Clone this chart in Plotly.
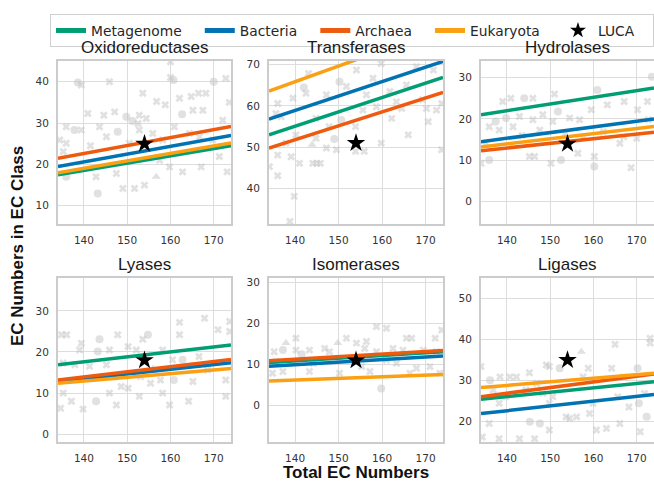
import plotly.graph_objects as go

# ---------------- data ----------------
PANELS = ["Oxidoreductases", "Transferases", "Hydrolases", "Lyases", "Isomerases", "Ligases"]
GROUPS = ["Metagenome", "Bacteria", "Archaea", "Eukaryota"]
FIT_X = [134, 174]

# regression-line values at FIT_X for each panel (Metagenome, Bacteria, Archaea, Eukaryota)
FIT_OXI = [(17.5, 24.5), (19.5, 27.0), (21.5, 29.2), (18.0, 25.2)]
FIT_TRA = [(53.0, 66.9), (56.8, 70.8), (49.8, 63.3), (63.6, 78.8)]
FIT_HYD = [(21.0, 27.5), (14.5, 20.0), (12.3, 16.8), (13.2, 18.2)]
FIT_LYA = [(16.9, 21.7), (12.8, 17.4), (13.2, 18.2), (12.4, 16.0)]
FIT_ISO = [(10.5, 13.1), (9.6, 12.1), (10.9, 13.4), (6.0, 7.6)]
FIT_LIG = [(25.5, 29.7), (22.0, 26.6), (26.1, 31.6), (28.3, 31.8)]

LUCA_X = 154
LUCA_Y = [25, 51, 14, 18, 11, 35]

Y_RANGES = [(5.6, 45), (31.4, 70.9), (-5.4, 34), (-1.9, 38), (-8.8, 31), (15.1, 54.9)]
X_RANGE = (134, 174)

# background genome points: (total EC, EC in class, source kind)
PTS_OXI = [(145.9, 40, "M"), (139.4, 39.2, "M"), (138.6, 39.8, "B"), (153.6, 37.2, "M"), (160, 41, "M"),
           (160, 44.8, "M"), (160.7, 40.4, "B"), (166.5, 37.2, "M"), (168.2, 37.2, "M"), (170, 40, "B"),
           (172.8, 40.8, "M"), (173.6, 35, "M"), (140.9, 32.3, "M"), (144.6, 31.9, "M"), (147.1, 32.7, "M"),
           (149.8, 31.5, "B"), (152.8, 31.9, "M"), (154.4, 31.1, "M"), (156.8, 35.2, "M"), (158.8, 34.4, "M"),
           (162.1, 36, "M"), (164.8, 36.4, "M"), (165.2, 33.1, "M"), (167.5, 33.1, "M"), (135.9, 29.1, "M"),
           (137.8, 28.3, "B"), (139.4, 28.3, "M"), (143.6, 29.1, "M"), (145.2, 26.7, "M"), (147.8, 27.9, "B"),
           (152.5, 29.9, "M"), (152.8, 28.3, "M"), (155.9, 27.5, "M"), (158.2, 25.9, "M"), (160.9, 29.1, "M"),
           (162.7, 32.1, "B"), (164.4, 27.5, "M"), (166.7, 26.7, "M"), (169.8, 25.9, "M"), (172.1, 30.7, "M"),
           (134.4, 25.9, "M"), (135.9, 25.1, "M"), (147.5, 17.8, "M"), (142.8, 17.0, "M"), (143.2, 13.0, "B"),
           (149.0, 14.2, "M"), (151.7, 14.2, "M"), (154.0, 15.0, "M"), (156.7, 17.0, "A"), (159.8, 19.4, "M"),
           (162.8, 18.2, "M"), (167.1, 19.4, "M"), (173.1, 18.2, "M"), (135.9, 17.0, "B"), (135.2, 23.1, "M"),
           (150.5, 25.1, "M"), (171.3, 21.9, "M"), (151.2, 30.5, "B"), (141.5, 24.5, "M"), (157.5, 21.0, "M")]

PTS_TRA = [(138.8, 32.0, "M"), (139.8, 38.1, "M"), (136.0, 43.1, "M"), (134.1, 45.3, "M"), (141.0, 46.1, "M"),
           (144.1, 46.1, "M"), (145.0, 46.1, "M"), (145.8, 46.1, "M"), (139.1, 47.7, "M"), (136.0, 48.1, "M"),
           (147.2, 49.8, "M"), (149.5, 49.4, "M"), (153.9, 49.0, "M"), (155.9, 49.0, "M"), (159.8, 51.0, "M"),
           (143.9, 50.6, "A"), (137.9, 51.0, "M"), (140.2, 53.0, "M"), (144.8, 52.2, "M"), (147.8, 55.0, "M"),
           (153.9, 55.0, "M"), (150.6, 56.6, "B"), (162.2, 57.0, "M"), (166.0, 53.0, "M"), (170.6, 56.2, "M"),
           (173.7, 49.4, "M"), (139.5, 61.9, "M"), (142.5, 63.1, "M"), (143.1, 67.9, "M"), (147.2, 62.7, "M"),
           (150.2, 65.9, "B"), (151.8, 64.7, "M"), (154.1, 68.7, "M"), (156.4, 62.7, "M"), (157.9, 66.7, "M"),
           (159.8, 70.3, "M"), (161.8, 63.5, "M"), (163.3, 61.0, "M"), (165.6, 65.1, "M"), (167.9, 69.5, "M"),
           (169.3, 61.5, "M"), (170.2, 59.4, "M"), (171.8, 68.7, "M"), (172.5, 59.0, "M"), (173.7, 60.6, "M"),
           (135.6, 58.2, "M"), (136.8, 57.4, "M"), (136.0, 60.6, "M"), (144.8, 57.0, "M"), (155.6, 59.0, "M"),
           (158.7, 59.8, "M"), (164.5, 59.4, "M"), (149.0, 52.0, "B"), (142.0, 64.5, "B")]

PTS_HYD = [(134.0, 9.3, "M"), (135.9, 10.1, "B"), (135.9, 18.1, "M"), (135.1, 14.1, "M"), (139.0, 24.2, "M"),
           (140.9, 25.0, "M"), (144.0, 25.0, "B"), (146.0, 25.0, "M"), (151.0, 26.0, "M"), (160.9, 27.0, "B"),
           (163.2, 23.4, "M"), (167.1, 24.2, "M"), (170.2, 22.2, "M"), (172.5, 24.2, "M"), (173.5, 30.2, "B"),
           (139.8, 20.2, "B"), (142.9, 20.6, "M"), (146.0, 19.8, "M"), (148.3, 21.0, "M"), (150.6, 19.4, "M"),
           (151.8, 21.8, "B"), (154.5, 20.2, "M"), (156.8, 19.8, "M"), (159.5, 22.2, "M"), (138.2, 17.3, "M"),
           (137.4, 19.4, "B"), (141.4, 18.1, "M"), (147.6, 17.3, "M"), (157.7, 15.7, "M"), (162.3, 16.9, "M"),
           (167.0, 15.7, "M"), (170.0, 15.3, "M"), (145.2, 10.9, "M"), (146.4, 10.9, "M"), (150.2, 9.3, "M"),
           (152.5, 10.1, "B"), (156.4, 11.7, "M"), (160.2, 10.9, "M"), (160.2, 8.5, "B"), (168.7, 8.2, "M"),
           (166.1, 14.1, "M"), (172.7, 19.8, "M"), (143.5, 16.0, "M"), (153.5, 16.5, "M")]

PTS_LYA = [(134.8, 24.2, "M"), (136.0, 24.2, "M"), (139.4, 22.1, "M"), (143.6, 23.1, "B"), (147.8, 24.2, "M"),
           (154.8, 24.2, "B"), (153.6, 23.1, "M"), (162.1, 27.2, "M"), (162.1, 24.2, "M"), (167.9, 28.2, "M"),
           (171.0, 25.4, "M"), (173.7, 27.4, "M"), (173.7, 25.0, "M"), (139.0, 20.5, "M"), (143.2, 20.1, "B"),
           (145.9, 20.5, "M"), (150.2, 21.3, "M"), (152.1, 20.5, "M"), (158.2, 20.5, "M"), (160.5, 18.1, "M"),
           (162.8, 18.1, "B"), (166.6, 18.9, "M"), (135.2, 17.3, "M"), (137.9, 16.9, "M"), (141.3, 16.5, "M"),
           (145.2, 16.9, "M"), (146.9, 14.0, "M"), (149.2, 14.4, "M"), (153.1, 14.0, "M"), (155.4, 12.4, "M"),
           (157.7, 13.2, "M"), (160.8, 13.2, "B"), (165.2, 12.8, "M"), (168.6, 15.6, "M"), (135.2, 10.0, "M"),
           (137.1, 8.0, "M"), (142.8, 8.0, "B"), (145.9, 10.0, "M"), (148.6, 11.6, "M"), (150.2, 11.2, "M"),
           (152.8, 9.2, "M"), (158.2, 10.0, "M"), (159.8, 7.1, "M"), (164.2, 8.0, "M"), (172.8, 9.2, "M"),
           (139.8, 6.1, "M"), (147.5, 7.1, "M"), (134.6, 6.3, "M"), (172.8, 13.2, "M"), (156.0, 16.0, "A")]

PTS_ISO = [(158.7, 19.2, "M"), (161.0, 18.8, "M"), (173.7, 18.4, "M"), (140.2, 16.4, "M"), (151.8, 16.4, "M"),
           (154.1, 15.2, "M"), (156.4, 15.6, "M"), (165.6, 16.4, "M"), (166.8, 16.4, "M"), (172.2, 16.4, "M"),
           (137.9, 15.2, "A"), (149.8, 15.2, "A"), (135.2, 13.1, "M"), (137.2, 13.5, "B"), (140.2, 13.5, "M"),
           (143.3, 13.5, "M"), (146.8, 13.9, "M"), (147.9, 13.1, "M"), (156.0, 13.9, "M"), (158.7, 13.1, "M"),
           (162.5, 13.9, "M"), (164.8, 13.5, "M"), (169.5, 13.5, "M"), (172.5, 13.1, "M"), (135.6, 10.7, "M"),
           (138.7, 10.3, "M"), (144.2, 10.3, "M"), (150.2, 11.5, "M"), (161.0, 11.1, "M"), (163.3, 10.3, "M"),
           (167.9, 9.1, "M"), (171.0, 9.5, "M"), (134.8, 7.9, "M"), (143.3, 8.3, "M"), (150.2, 7.9, "M"),
           (157.2, 8.3, "M"), (159.8, 4.2, "B"), (166.4, 7.9, "M"), (173.3, 7.9, "M"), (137.2, 8.3, "M"),
           (155.3, 9.5, "M"), (141.5, 12.5, "B")]

PTS_LIG = [(173.1, 40.3, "M"), (173.1, 39.1, "M"), (165.0, 38.8, "M"), (157.2, 37.0, "A"), (149.1, 33.8, "M"),
           (149.8, 33.4, "M"), (152.2, 33.0, "B"), (158.8, 33.0, "M"), (164.2, 33.0, "M"), (134.0, 33.4, "M"),
           (136.1, 30.1, "B"), (138.4, 30.9, "M"), (140.7, 30.9, "M"), (142.2, 30.9, "M"), (145.2, 31.9, "M"),
           (146.9, 29.3, "M"), (157.6, 30.9, "M"), (167.0, 30.9, "M"), (170.2, 33.0, "B"), (136.8, 27.7, "M"),
           (139.8, 26.1, "M"), (144.4, 27.7, "M"), (148.3, 26.9, "M"), (150.6, 26.1, "M"), (165.6, 26.1, "M"),
           (171.8, 26.9, "M"), (138.2, 24.5, "M"), (149.8, 24.5, "M"), (159.9, 24.5, "M"), (168.2, 23.6, "M"),
           (170.5, 24.5, "B"), (135.9, 19.6, "M"), (145.3, 20.0, "B"), (147.6, 19.6, "B"), (154.5, 20.8, "M"),
           (156.1, 21.2, "M"), (160.7, 18.0, "M"), (163.0, 18.4, "M"), (166.1, 19.6, "M"), (170.8, 17.6, "M"),
           (134.3, 16.3, "M"), (138.2, 15.9, "M"), (142.9, 15.9, "M"), (146.4, 15.9, "M"), (149.8, 18.0, "M"),
           (159.1, 22.0, "M"), (153.7, 21.2, "M"), (172.3, 21.2, "B")]

# ---------------- style ----------------
COLORS = {"Metagenome": "#029e73", "Bacteria": "#0173b2", "Archaea": "#ee5a0e", "Eukaryota": "#fba012"}
KIND_SYMBOL = {"M": "x", "B": "circle", "A": "triangle-up"}
W, H = 654, 481
COLS_PX = [(58, 231), (269, 443), (481, 654)]
ROWS_PX = [(61, 224), (278, 442)]
TICK_FONT = dict(family="DejaVu Sans", size=10.5, color="#333333")
LEGEND_PAD = "\u00a0\u00a0\u00a0"

FITS = [FIT_OXI, FIT_TRA, FIT_HYD, FIT_LYA, FIT_ISO, FIT_LIG]
PTS = [PTS_OXI, PTS_TRA, PTS_HYD, PTS_LYA, PTS_ISO, PTS_LIG]

fig = go.Figure()
annotations = []

for i, name in enumerate(PANELS):
    r, c = divmod(i, 3)
    k = i + 1
    xa = "x" if k == 1 else f"x{k}"
    ya = "y" if k == 1 else f"y{k}"
    x0, x1 = COLS_PX[c]
    y0, y1 = ROWS_PX[r]
    xdom = [x0 / W, x1 / W]
    ydom = [(H - y1) / H, (H - y0) / H]
    common = dict(showline=True, mirror=True, linecolor="#cccccc", linewidth=2,
                  showgrid=True, gridcolor="#dddddd", gridwidth=1, zeroline=False,
                  tickfont=TICK_FONT, ticks="outside", ticklen=5, tickcolor="rgba(0,0,0,0)",
                  automargin=False)
    fig.layout[f"xaxis{'' if k == 1 else k}"] = dict(domain=xdom, anchor=ya, range=list(X_RANGE),
                                                     tickvals=[140, 150, 160, 170], **common)
    ylo, yhi = Y_RANGES[i]
    fig.layout[f"yaxis{'' if k == 1 else k}"] = dict(domain=ydom, anchor=xa, range=[ylo, yhi],
                                                     dtick=10, **common)

    # background points
    for kind, sym in KIND_SYMBOL.items():
        px = [p[0] for p in PTS[i] if p[2] == kind]
        py = [p[1] for p in PTS[i] if p[2] == kind]
        if not px:
            continue
        fig.add_trace(go.Scatter(x=px, y=py, mode="markers", xaxis=xa, yaxis=ya, showlegend=False,
                                 hoverinfo="skip",
                                 marker=dict(symbol=sym, size=7 if sym == "x" else 8,
                                             color="rgba(195,195,195,0.5)", line=dict(width=0))))
    # fit lines
    for g, grp in enumerate(GROUPS):
        fig.add_trace(go.Scatter(x=FIT_X, y=list(FITS[i][g]), mode="lines", xaxis=xa, yaxis=ya,
                                 name=grp + LEGEND_PAD, legendgroup=grp, showlegend=(i == 0),
                                 line=dict(color=COLORS[grp], width=3.5)))
    # LUCA
    fig.add_trace(go.Scatter(x=[LUCA_X], y=[LUCA_Y[i]], mode="markers", xaxis=xa, yaxis=ya,
                             name="LUCA" + LEGEND_PAD, legendgroup="LUCA", showlegend=(i == 0),
                             marker=dict(symbol="star", size=14, color="black", line=dict(width=0))))

    annotations.append(dict(text=name, xref="paper", yref="paper", x=(xdom[0] + xdom[1]) / 2,
                            y=ydom[1], yanchor="bottom", xanchor="center", yshift=2, showarrow=False,
                            font=dict(family="Liberation Sans", size=17, color="#1a1a1a")))

annotations.append(dict(text="<b>Total EC Numbers</b>", xref="paper", yref="paper", x=356 / W,
                        y=(H - 472) / H, xanchor="center", yanchor="middle", showarrow=False,
                        font=dict(family="Liberation Sans", size=17, color="#111111")))
annotations.append(dict(text="<b>EC Numbers in EC Class</b>", xref="paper", yref="paper", x=18 / W,
                        y=(H - 246) / H, xanchor="center", yanchor="middle", showarrow=False,
                        textangle=-90, font=dict(family="Liberation Sans", size=17, color="#111111")))

fig.update_layout(
    width=W, height=H, margin=dict(l=0, r=0, t=0, b=0),
    paper_bgcolor="white", plot_bgcolor="white",
    annotations=annotations,
    legend=dict(orientation="h", x=55 / W, y=1 - 14 / H, xanchor="left", yanchor="top",
                bordercolor="#d0d0d0", borderwidth=1, bgcolor="white",
                font=dict(family="DejaVu Sans", size=13.8, color="#262626"),
                itemsizing="constant", traceorder="normal"),
)

fig.write_html("out.html", config={"displayModeBar": False},
               post_script="document.body.style.margin='0px';")
